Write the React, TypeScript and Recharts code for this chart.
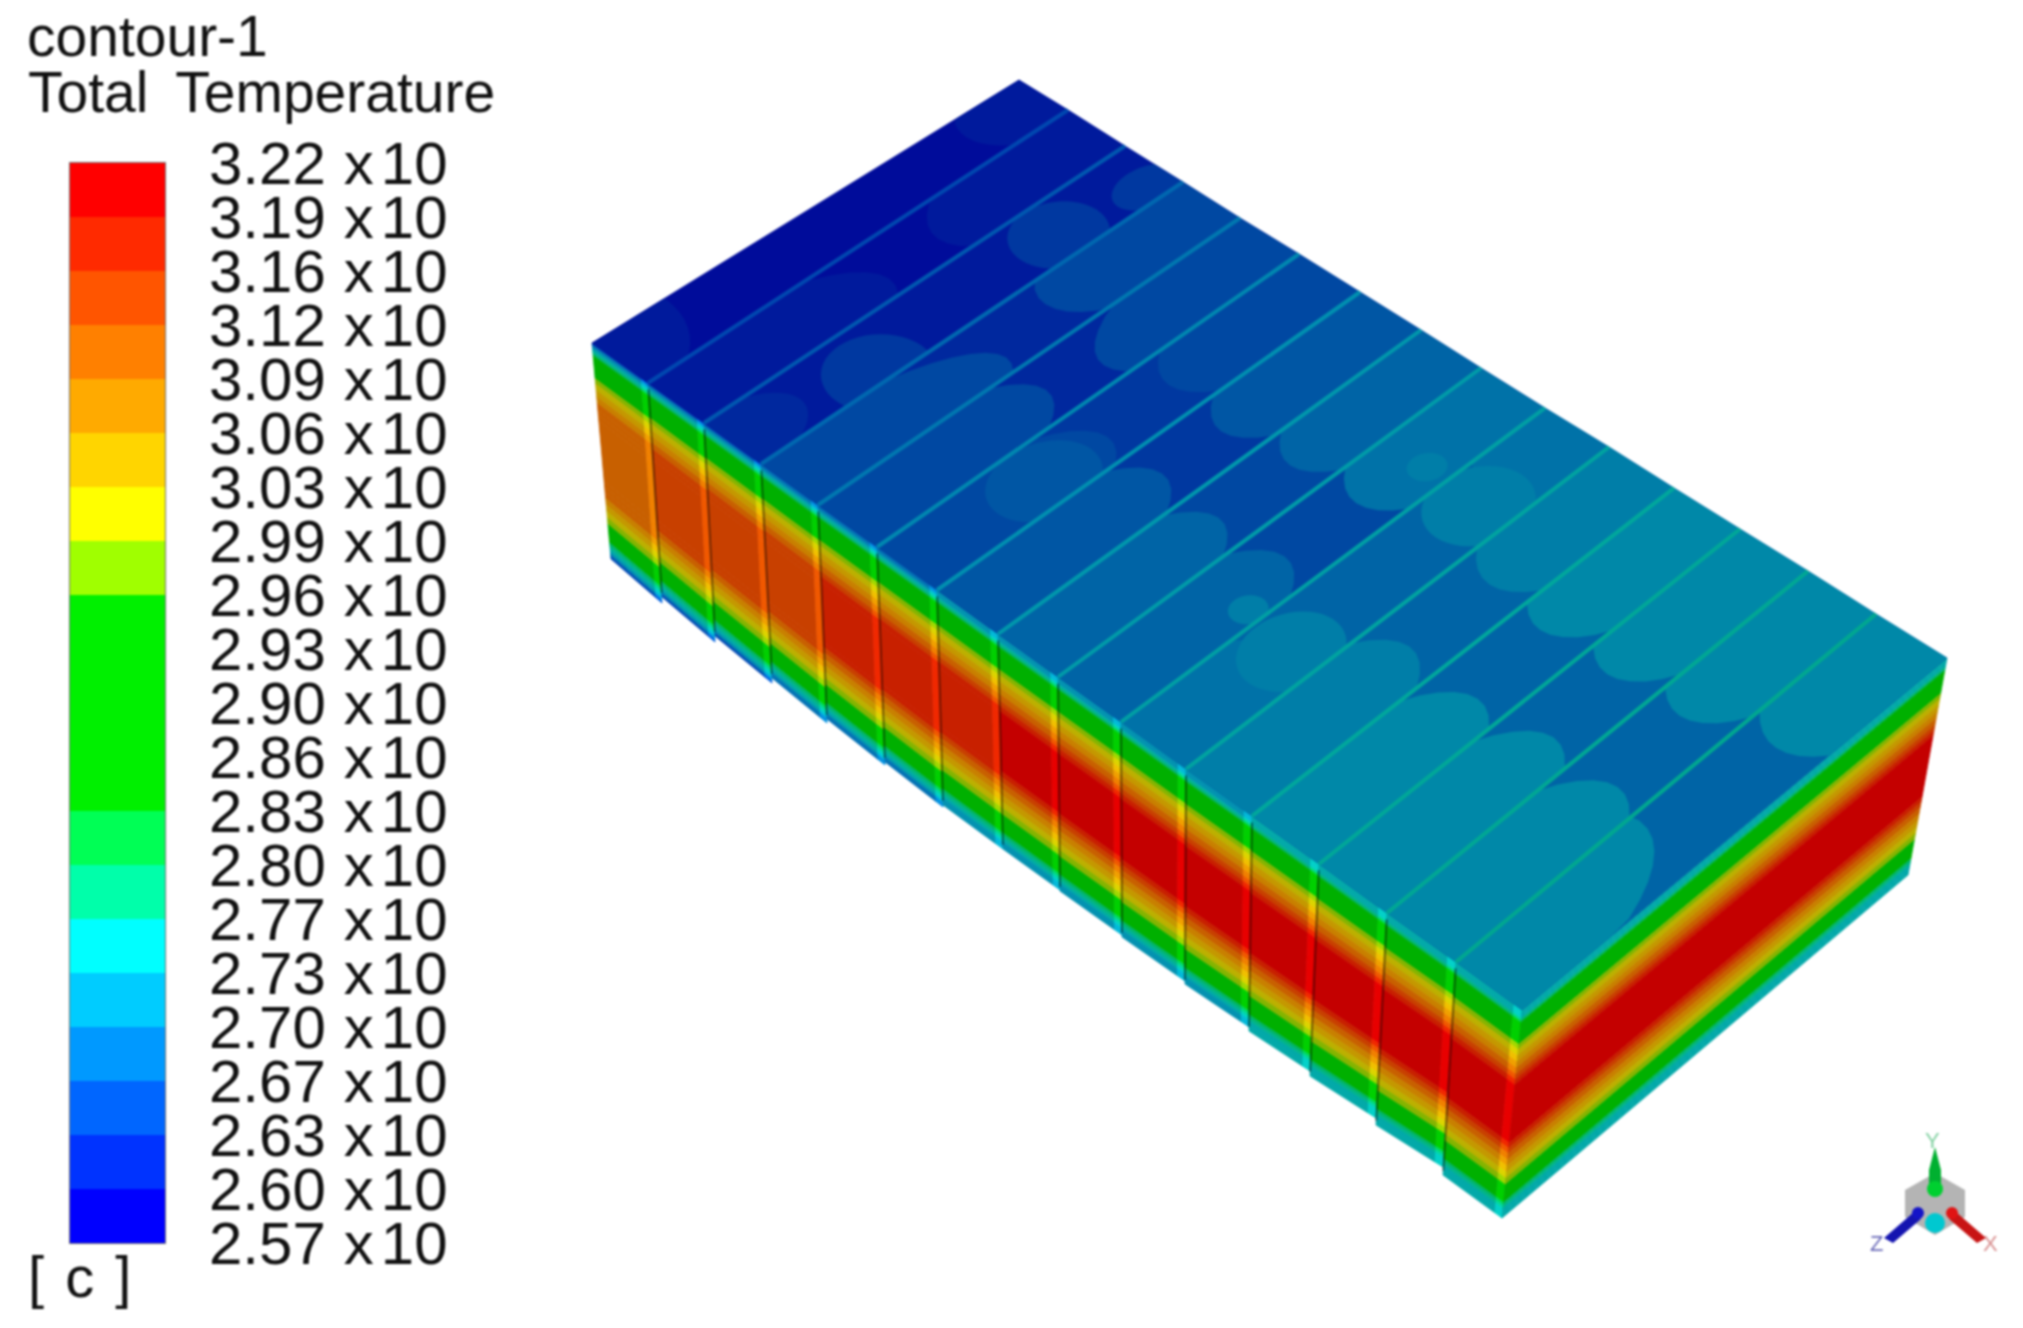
import { Bar, BarChart, ReferenceArea, Scatter, ScatterChart, XAxis, YAxis } from 'recharts';

const WIDTH = 2023;
const HEIGHT = 1328;

// legend, hottest first
const LEGEND_LABELS = [
    '3.22', '3.19', '3.16', '3.12', '3.09', '3.06', '3.03', '2.99', '2.96', '2.93', '2.90',
    '2.86', '2.83', '2.80', '2.77', '2.73', '2.70', '2.67', '2.63', '2.60', '2.57',
];
// contour levels, coldest first
const LEVEL_COLORS = [
    '#0000ff', '#0033ff', '#0066ff', '#0099ff', '#00ccff', '#00ffff', '#00ffaa', '#00ff55',
    '#00f000', '#00f000', '#00f000', '#00f000', '#a0ff00', '#ffff00', '#ffd500', '#ffaa00',
    '#ff8000', '#ff5500', '#ff2a00', '#ff0000',
];
const FACE_COLORS = [
    '#0000b0', '#0020b4', '#0048b4', '#0070b4', '#0090b0', '#00a8a8', '#00b48c', '#00b464',
    '#00b000', '#00b000', '#00b000', '#00b000', '#84b400', '#bcb000', '#c49800', '#c88000',
    '#c86000', '#c84000', '#c82000', '#c40000',
];
const EDGE_COLORS = [
    '#0000e0', '#0030e0', '#0060e0', '#0090e0', '#00b8d8', '#00d0c8', '#00d8a0', '#00d860',
    '#00d000', '#00d000', '#00d000', '#00d000', '#a0d800', '#dcd400', '#f0c000', '#f0a000',
    '#f08000', '#f05800', '#f02800', '#e80000',
];
const TOP_COLORS = [
    '#000c9a', '#001a9c', '#00289e', '#0038a0', '#0048a2', '#0056a4', '#0064a6', '#0072a8',
    '#007ea8', '#0088a8',
];

// block corners, 15 blocks so 16 stations
const FRONT_X = [592, 648, 704, 761, 818, 877, 937, 998, 1058, 1121, 1186, 1252, 1319, 1387, 1456, 1522];
const FRONT_Y = [343, 383, 423, 464, 505, 547, 590, 634, 677, 722, 769, 816, 864, 913, 962, 1010];
const REAR_X = [1019, 1068, 1125, 1183, 1240, 1299, 1360, 1421, 1481, 1545, 1609, 1674, 1740, 1808, 1876, 1947];
const REAR_Y = [80, 110, 146, 182, 218, 254, 292, 330, 368, 408, 447, 488, 529, 571, 614, 658];
const BOTTOM_X = [611, 662, 715, 772, 827, 885, 943, 1003, 1060, 1122, 1185, 1249, 1310, 1376, 1443, 1502];
const BOTTOM_Y = [559, 597, 636, 678, 719, 762, 805, 849, 891, 937, 984, 1031, 1076, 1125, 1175, 1218];
// how far a block's lower right corner hangs below the next block's lower left one
const BOTTOM_STEP = [0, 6, 6, 5, 4, 3, 2, 0, -1, -2, -3, -4, -5, -7, -8, 0];
const RIGHT_BOTTOM = [1908, 875];

// temperature profile down a side face: start of strip (fraction of height) and level
const SIDE_STARTS = [
    0, 0.01, 0.02, 0.03, 0.04, 0.05, 0.06, 0.165, 0.19, 0.22, 0.25, 0.28, 0.31, 0.335, 0.36, 0.64,
    0.665, 0.69, 0.72, 0.75, 0.78, 0.81, 0.84, 0.925, 0.94, 0.955, 0.97, 0.98, 0.99,
];
const SIDE_LEVELS = [
    2, 3, 4, 5, 6, 7, 9, 12, 13, 14, 15, 16, 17, 18, 19, 18,
    17, 16, 15, 14, 13, 12, 9, 7, 6, 5, 4, 3, 2,
];
const BLOCK_FLOOR = [2, 2, 2, 3, 3, 3, 4, 4, 4, 4, 4, 5, 5, 5, 5];
const BLOCK_PEAK = [16, 17, 17, 17, 18, 18, 18, 19, 19, 19, 19, 19, 19, 19, 19];

// top face
const TOP_BASE = [0, 0, 1, 2, 2, 3, 3, 4, 4, 6, 6, 6, 6, 6, 6];
// block, colour index, across centre, along centre, across radius, along radius
const TOP_LOBES = [
    [0, 1, 0, 0, 1.2, 0.17],
    [0, 1, 0.4, 1, 0.9, 0.17],
    [1, 1, 0.7, 0, 1.1, 0.48],
    [1, 1, 0.6, 1, 1.1, 0.39],
    [2, 2, 0.5, 0, 0.6, 0.16],
    [2, 3, 0.85, 0.3, 0.7, 0.1],
    [2, 3, 0.6, 0.76, 0.6, 0.09],
    [2, 3, 0.75, 0.95, 0.35, 0.07],
    [3, 4, 0.75, 0, 0.95, 0.48],
    [3, 4, 0.4, 1, 1.1, 0.38],
    [4, 4, 0.5, 0, 1, 0.47],
    [4, 4, 0.7, 1, 1, 0.42],
    [5, 4, 0.6, 0, 1, 0.46],
    [5, 5, 0.6, 0.31, 0.6, 0.11],
    [5, 4, 0.5, 1, 1, 0.38],
    [6, 5, 0.5, 0, 1, 0.46],
    [6, 5, 0.5, 1, 1, 0.4],
    [7, 6, 0.5, 0, 1, 0.45],
    [7, 6, 0.5, 1, 1, 0.38],
    [8, 6, 0.5, 0, 1, 0.46],
    [8, 7, 0.5, 1, 1, 0.37],
    [8, 8, 0.8, 0.33, 0.22, 0.035],
    [8, 8, 0.68, 0.77, 0.22, 0.035],
    [9, 7, 0.5, 0, 1, 0.3],
    [9, 7, 0.5, 1, 1, 0.2],
    [9, 8, 0.6, 0.31, 0.55, 0.1],
    [9, 8, 0.55, 0.76, 0.6, 0.1],
    [10, 8, 0.5, 0, 1, 0.45],
    [10, 8, 0.5, 1, 1, 0.36],
    [11, 9, 0.6, 0, 1, 0.44],
    [11, 9, 0.4, 1, 1, 0.38],
    [12, 9, 0.6, 0, 1, 0.46],
    [12, 9, 0.4, 1, 1, 0.38],
    [13, 9, 0.6, 0, 1, 0.45],
    [13, 9, 0.4, 1, 1, 0.37],
    [14, 9, 0.1, 0, 1.1, 0.42],
    [14, 9, 0.5, 1, 1, 0.32],
];
const SEAM_COLORS = [
    '#0048b0', '#0058b0', '#0068b0', '#0078b0', '#0088b0', '#0090b0', '#0098ac', '#009ca8',
    '#00a0a4', '#00a4a0', '#00a89c', '#00a898', '#00a894', '#00a890',
];

// orientation triad
const TRIAD_CUBE = [[1935, 1173], [1965, 1190], [1965, 1217], [1935, 1235], [1905, 1217], [1905, 1190]];
const TRIAD_Y_ARROW = [[1935, 1147], [1941, 1170], [1941, 1190], [1929, 1190], [1929, 1170]];
const TRIAD_Z_ARROW = [[1884, 1238], [1914, 1212], [1921, 1219], [1893, 1243]];
const TRIAD_X_ARROW = [[1986, 1238], [1956, 1212], [1949, 1219], [1977, 1243]];
const SPHERE_GREEN = [{ x: 1935, y: 1189 }];
const SPHERE_BLUE = [{ x: 1918, y: 1213 }];
const SPHERE_RED = [{ x: 1952, y: 1213 }];
const SPHERE_CYAN = [{ x: 1935, y: 1223 }];

type Pt = number[];
interface Poly {
    pts: Pt[];
    fill: string;
    stroke?: string;
    strokeWidth?: number;
}

const mix = (a: Pt, b: Pt, t: number): Pt => [a[0] + (b[0] - a[0]) * t, a[1] + (b[1] - a[1]) * t];
const front = (i: number): Pt => [FRONT_X[i], FRONT_Y[i]];
const rear = (i: number): Pt => [REAR_X[i], REAR_Y[i]];
const bottom = (i: number): Pt => [BOTTOM_X[i], BOTTOM_Y[i]];

const sideStrips = (tl: Pt, tr: Pt, bl: Pt, br: Pt, palette: string[], floor: number, peak: number): Poly[] =>
    SIDE_STARTS.map((start, k) => {
        const end = k + 1 < SIDE_STARTS.length ? SIDE_STARTS[k + 1] : 1;
        const level = Math.min(peak, Math.max(floor, SIDE_LEVELS[k]));
        const c = palette[level];
        return {
            pts: [mix(tl, bl, start), mix(tr, br, start), mix(tr, br, end), mix(tl, bl, end)],
            fill: c,
            stroke: c,
            strokeWidth: 0.8,
        };
    });

const polys: Poly[] = [];

// side faces
for (let i = 0; i < 15; i++) {
    const tl = front(i);
    const tr = front(i + 1);
    const bl = bottom(i);
    const br = [BOTTOM_X[i + 1], BOTTOM_Y[i + 1] + BOTTOM_STEP[i + 1]];
    const tm = mix(tl, tr, 0.88);
    const bm = mix(bl, br, 0.88);
    polys.push(...sideStrips(tl, tm, bl, bm, FACE_COLORS, BLOCK_FLOOR[i], BLOCK_PEAK[i]));
    polys.push(...sideStrips(tm, tr, bm, br, EDGE_COLORS, BLOCK_FLOOR[i], BLOCK_PEAK[i]));
    if (i > 0) {
        polys.push({ pts: [mix(tl, bl, 0.03), mix(tl, bl, 0.98)], fill: 'none', stroke: 'rgba(0,0,0,0.5)', strokeWidth: 1.8 });
    }
}
polys.push(...sideStrips(front(15), rear(15), bottom(15), RIGHT_BOTTOM, FACE_COLORS, 5, 19));

// top face
const local = (i: number, s: number, v: number): Pt => mix(mix(front(i), front(i + 1), s), mix(rear(i), rear(i + 1), s), v);
for (let i = 0; i < 15; i++) {
    const c = TOP_COLORS[TOP_BASE[i]];
    polys.push({ pts: [local(i, 0, 0), local(i, 1, 0), local(i, 1, 1), local(i, 0, 1)], fill: c, stroke: c, strokeWidth: 0.8 });
}
TOP_LOBES.forEach(([block, colour, sc, vc, rs, rv]) => {
    const pts: Pt[] = [];
    for (let a = 0; a < 48; a++) {
        const th = (a / 48) * Math.PI * 2;
        const s = Math.min(1, Math.max(0, sc + rs * Math.cos(th)));
        const v = Math.min(1, Math.max(0, vc + rv * Math.sin(th)));
        pts.push(local(block, s, v));
    }
    polys.push({ pts, fill: TOP_COLORS[colour] });
});
SEAM_COLORS.forEach((c, k) => {
    polys.push({ pts: [front(k + 1), rear(k + 1)], fill: 'none', stroke: c, strokeWidth: 4 });
});

// triad
polys.push({ pts: TRIAD_CUBE, fill: '#b4b4b4' });
polys.push({ pts: TRIAD_Y_ARROW, fill: '#00b030' });
polys.push({ pts: TRIAD_Z_ARROW, fill: '#1414b0' });
polys.push({ pts: TRIAD_X_ARROW, fill: '#c81414' });

const vertices = polys.flatMap((p, id) => p.pts.map(([x, y]) => ({ x, y, id })));

// the scatter hands back every vertex through the chart's scales, group them again per polygon
function drawPolys(props: any) {
    const grouped: string[][] = polys.map(() => []);
    props.points.forEach((pt: { x: number; y: number }, n: number) => {
        grouped[vertices[n].id].push(`${pt.x},${pt.y}`);
    });
    return (
        <g>
            {polys.map((p, i) => (
                <polygon
                    key={i}
                    points={grouped[i].join(' ')}
                    fill={p.fill}
                    stroke={p.stroke ?? 'none'}
                    strokeWidth={p.strokeWidth ?? 0}
                />
            ))}
        </g>
    );
}

const noSymbol = () => <g />;
const sphere = (r: number, fill: string) => (props: any) => <circle cx={props.cx} cy={props.cy} r={r} fill={fill} />;

const legendRow = [Object.fromEntries(LEVEL_COLORS.map((_, i) => [`band${i}`, 1]))];
const legendTicks = LEGEND_LABELS.map((_, i) => i);

function LegendTick({ x, y, payload }: any) {
    const label = LEGEND_LABELS[LEGEND_LABELS.length - 1 - payload.value];
    return (
        <text x={x + 36} y={y + 21} fontFamily="Liberation Sans" fontSize={60} fill="#111">
            <tspan>{label}</tspan>
            <tspan dx={18}>x</tspan>
            <tspan dx={7}>10</tspan>
        </text>
    );
}

const textStyle = {
    position: 'absolute' as const,
    fontFamily: 'Liberation Sans',
    color: '#111',
    whiteSpace: 'pre' as const,
    lineHeight: 1,
};

export default function App() {
    return (
        <div style={{ position: 'absolute', left: 0, top: 0, width: WIDTH, height: HEIGHT, background: '#fff', overflow: 'hidden', filter: 'blur(0.8px)' }}>
            <div style={{ ...textStyle, left: 27, top: 8, fontSize: 57 }}>contour-1</div>
            <div style={{ ...textStyle, left: 28, top: 64, fontSize: 57, wordSpacing: 12 }}>Total Temperature</div>
            <div style={{ ...textStyle, left: 28, top: 1248, fontSize: 58, wordSpacing: 5 }}>[ c ]</div>
            <div style={{ position: 'absolute', left: 0, top: 0 }}>
                <BarChart
                    width={520}
                    height={HEIGHT}
                    data={legendRow}
                    margin={{ top: 163, bottom: HEIGHT - 1243, left: 70, right: 0 }}
                    barCategoryGap={0}
                >
                    <XAxis hide />
                    <YAxis
                        orientation="right"
                        type="number"
                        domain={[0, 20]}
                        ticks={legendTicks}
                        interval={0}
                        width={355}
                        axisLine={false}
                        tickLine={false}
                        tick={LegendTick}
                    />
                    {LEVEL_COLORS.map((c, i) => (
                        <Bar key={i} dataKey={`band${i}`} stackId="legend" fill={c} isAnimationActive={false} />
                    ))}
                    <ReferenceArea y1={0} y2={20} fill="none" stroke="rgba(0,0,0,0.55)" strokeWidth={2} />
                </BarChart>
            </div>
            <div style={{ position: 'absolute', left: 0, top: 0 }}>
                <ScatterChart width={WIDTH} height={HEIGHT} margin={{ top: 0, right: 0, bottom: 0, left: 0 }}>
                    <XAxis type="number" dataKey="x" domain={[0, WIDTH]} hide />
                    <YAxis type="number" dataKey="y" domain={[0, HEIGHT]} reversed hide />
                    <Scatter data={vertices} line={drawPolys} shape={noSymbol} isAnimationActive={false} />
                    <Scatter data={SPHERE_GREEN} shape={sphere(8, '#00d030')} isAnimationActive={false} />
                    <Scatter data={SPHERE_BLUE} shape={sphere(6, '#1414c8')} isAnimationActive={false} />
                    <Scatter data={SPHERE_RED} shape={sphere(6, '#e01414')} isAnimationActive={false} />
                    <Scatter data={SPHERE_CYAN} shape={sphere(10, '#00c8d0')} isAnimationActive={false} />
                </ScatterChart>
            </div>
            <div style={{ ...textStyle, left: 1925, top: 1130, fontSize: 22, color: '#80d0a0' }}>Y</div>
            <div style={{ ...textStyle, left: 1870, top: 1233, fontSize: 22, color: '#6a6ab8' }}>Z</div>
            <div style={{ ...textStyle, left: 1983, top: 1233, fontSize: 22, color: '#d89090' }}>X</div>
        </div>
    );
}
